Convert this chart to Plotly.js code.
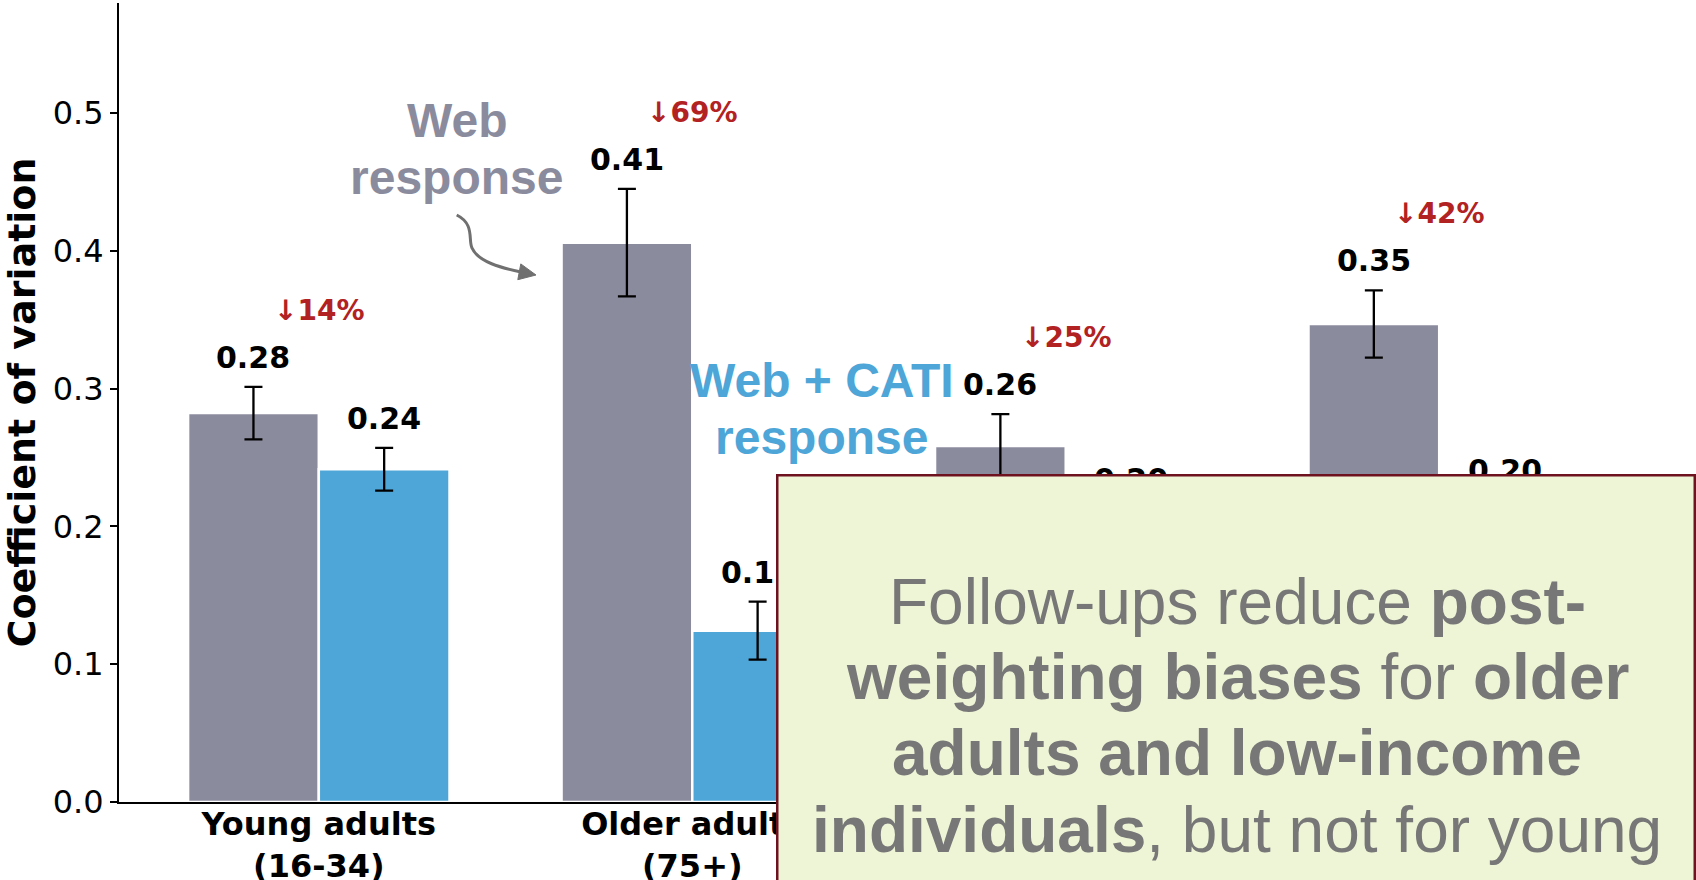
<!DOCTYPE html>
<html>
<head>
<meta charset="utf-8">
<script src="https://cdn.plot.ly/plotly-3.0.1.min.js"></script>
<style>html,body{margin:0;padding:0;background:#fff;}#chart{width:1696px;height:880px;}</style>
</head>
<body>
<div id="chart"></div>
<script>
// ---- data ----
const categories = ['Young adults<br>(16-34)', 'Older adults<br>(75+)', 'Low-educated<br>adults', 'Low-income<br>individuals'];
const webCV = [0.2823, 0.406, 0.2585, 0.347];
const webErr = [0.019, 0.039, 0.023, 0.0244];
const catiCV = [0.2416, 0.1244, 0.196, 0.200];
const catiErr = [0.0155, 0.021, 0.017, 0.019];
const reductions = [14, 69, 25, 42];
const yTicks = [0, 0.1, 0.2, 0.3, 0.4, 0.5];

// ---- style ----
const webColor = '#8B8B9E';
const catiColor = '#4DA6D7';
const redColor = '#B22222';
const W = 1696, H = 880;
const L = 119, R = 1639, T = 3, B = 802;
function px(x) { return (x - L) / (R - L); }
function py(y) { return (B - y) / (B - T); }

const xIdx = categories.map((c, i) => i);

const traces = [
  {
    type: 'bar', x: xIdx, y: webCV, name: 'Web',
    marker: {color: webColor, line: {color: '#ffffff', width: 2.5}},
    error_y: {type: 'data', array: webErr, visible: true, color: '#000', thickness: 2.3, width: 9},
    hoverinfo: 'skip'
  },
  {
    type: 'bar', x: xIdx, y: catiCV, name: 'Web + CATI',
    marker: {color: catiColor, line: {color: '#ffffff', width: 2.5}},
    error_y: {type: 'data', array: catiErr, visible: true, color: '#000', thickness: 2.3, width: 9},
    hoverinfo: 'skip'
  }
];

const annotations = [];
const valFont = {family: 'DejaVu Sans', size: 30, color: '#000', weight: 'bold'};
xIdx.forEach(i => {
  annotations.push({xref: 'x', yref: 'y', x: i - 0.175, y: webCV[i] + webErr[i], text: webCV[i].toFixed(2),
    showarrow: false, xanchor: 'center', yanchor: 'bottom', yshift: 10, font: valFont});
  annotations.push({xref: 'x', yref: 'y', x: i + 0.175, y: catiCV[i] + catiErr[i], text: catiCV[i].toFixed(2),
    showarrow: false, xanchor: 'center', yanchor: 'bottom', yshift: 10, font: valFont});
  annotations.push({xref: 'x', yref: 'y', x: i, y: Math.max(webCV[i] + webErr[i], catiCV[i] + catiErr[i]),
    text: '\u2193' + reductions[i] + '%', showarrow: false, xanchor: 'center', yanchor: 'bottom', yshift: 58,
    font: {family: 'DejaVu Sans', size: 28, color: redColor, weight: 'bold'}});
});

const labFont = (c) => ({family: 'Liberation Sans', size: 48, color: c, weight: 'bold'});
annotations.push({xref: 'paper', yref: 'paper', x: px(456.5), y: py(149.2), xanchor: 'center', yanchor: 'bottom', showarrow: false, text: 'Web', font: labFont(webColor)});
annotations.push({xref: 'paper', yref: 'paper', x: px(456.5), y: py(205.9), xanchor: 'center', yanchor: 'bottom', showarrow: false, text: 'response', font: labFont(webColor)});
annotations.push({xref: 'paper', yref: 'paper', x: px(821.5), y: py(409.2), xanchor: 'center', yanchor: 'bottom', showarrow: false, text: 'Web + CATI', font: labFont(catiColor)});
annotations.push({xref: 'paper', yref: 'paper', x: px(821.7), y: py(465.9), xanchor: 'center', yanchor: 'bottom', showarrow: false, text: 'response', font: labFont(catiColor)});

// overlay box
annotations.push({xref: 'paper', yref: 'paper', x: px(775.5), y: py(473.5), xanchor: 'left', yanchor: 'top',
  text: ' ', showarrow: false, width: 915, height: 460, bgcolor: '#EEF5D6', bordercolor: '#6E1220', borderwidth: 2.5, borderpad: 0});
const boxLines = [
  'Follow-ups reduce <b>post-</b>',
  '<b>weighting biases</b> for <b>older</b>',
  '<b>adults and low-income</b>',
  '<b>individuals</b>, but not for young'
];
const boxBottoms = [639.6, 714.6, 791.2, 867.6];
boxLines.forEach((t, k) => {
  annotations.push({xref: 'paper', yref: 'paper', x: px(1237), y: py(boxBottoms[k]), xanchor: 'center', yanchor: 'bottom',
    showarrow: false, text: t, font: {family: 'Liberation Sans', size: 64, color: '#777777'}});
});

// curved arrow (pixel path converted to paper)
function P(x, y) { return px(x).toFixed(5) + ',' + py(y).toFixed(5); }
const arrowPath = 'M' + P(456.7, 215) + ' C' + P(475, 224) + ' ' + P(468, 240) + ' ' + P(472, 248) +
  ' C' + P(478, 262) + ' ' + P(502, 268) + ' ' + P(521, 272);
const headPath = 'M' + P(536, 275) + ' L' + P(517.8, 279.7) + ' L' + P(520.8, 263.9) + ' Z';

const layout = {
  width: W, height: H, autosize: false,
  margin: {l: L, r: W - R, t: T, b: H - B, pad: 0},
  paper_bgcolor: '#fff', plot_bgcolor: '#fff',
  barmode: 'group', bargap: 0.3, bargroupgap: 0,
  showlegend: false,
  xaxis: {
    range: [-0.535, 3.535], tickvals: xIdx, ticktext: categories, ticks: '', ticklabelstandoff: -7,
    showgrid: false, zeroline: false, showline: true, linecolor: '#000', linewidth: 2,
    tickfont: {family: 'DejaVu Sans', size: 32, color: '#000', weight: 'bold'}
  },
  yaxis: {
    range: [0, 0.58], tickvals: yTicks, tickformat: '.1f', ticks: 'outside', ticklen: 7, tickwidth: 2, tickcolor: '#000',
    showgrid: false, zeroline: false, showline: true, linecolor: '#000', linewidth: 2,
    tickfont: {family: 'DejaVu Sans', size: 32, color: '#000'},
    title: {text: 'Coefficient of variation', standoff: 8, font: {family: 'DejaVu Sans', size: 38, color: '#000', weight: 'bold'}}
  },
  shapes: [
    {type: 'path', xref: 'paper', yref: 'paper', path: arrowPath, line: {color: '#707070', width: 3}, fillcolor: 'rgba(0,0,0,0)', layer: 'above'},
    {type: 'path', xref: 'paper', yref: 'paper', path: headPath, line: {color: '#707070', width: 1}, fillcolor: '#707070', layer: 'above'}
  ],
  annotations: annotations
};

Plotly.newPlot('chart', traces, layout, {displayModeBar: false, staticPlot: true});
</script>
</body>
</html>
